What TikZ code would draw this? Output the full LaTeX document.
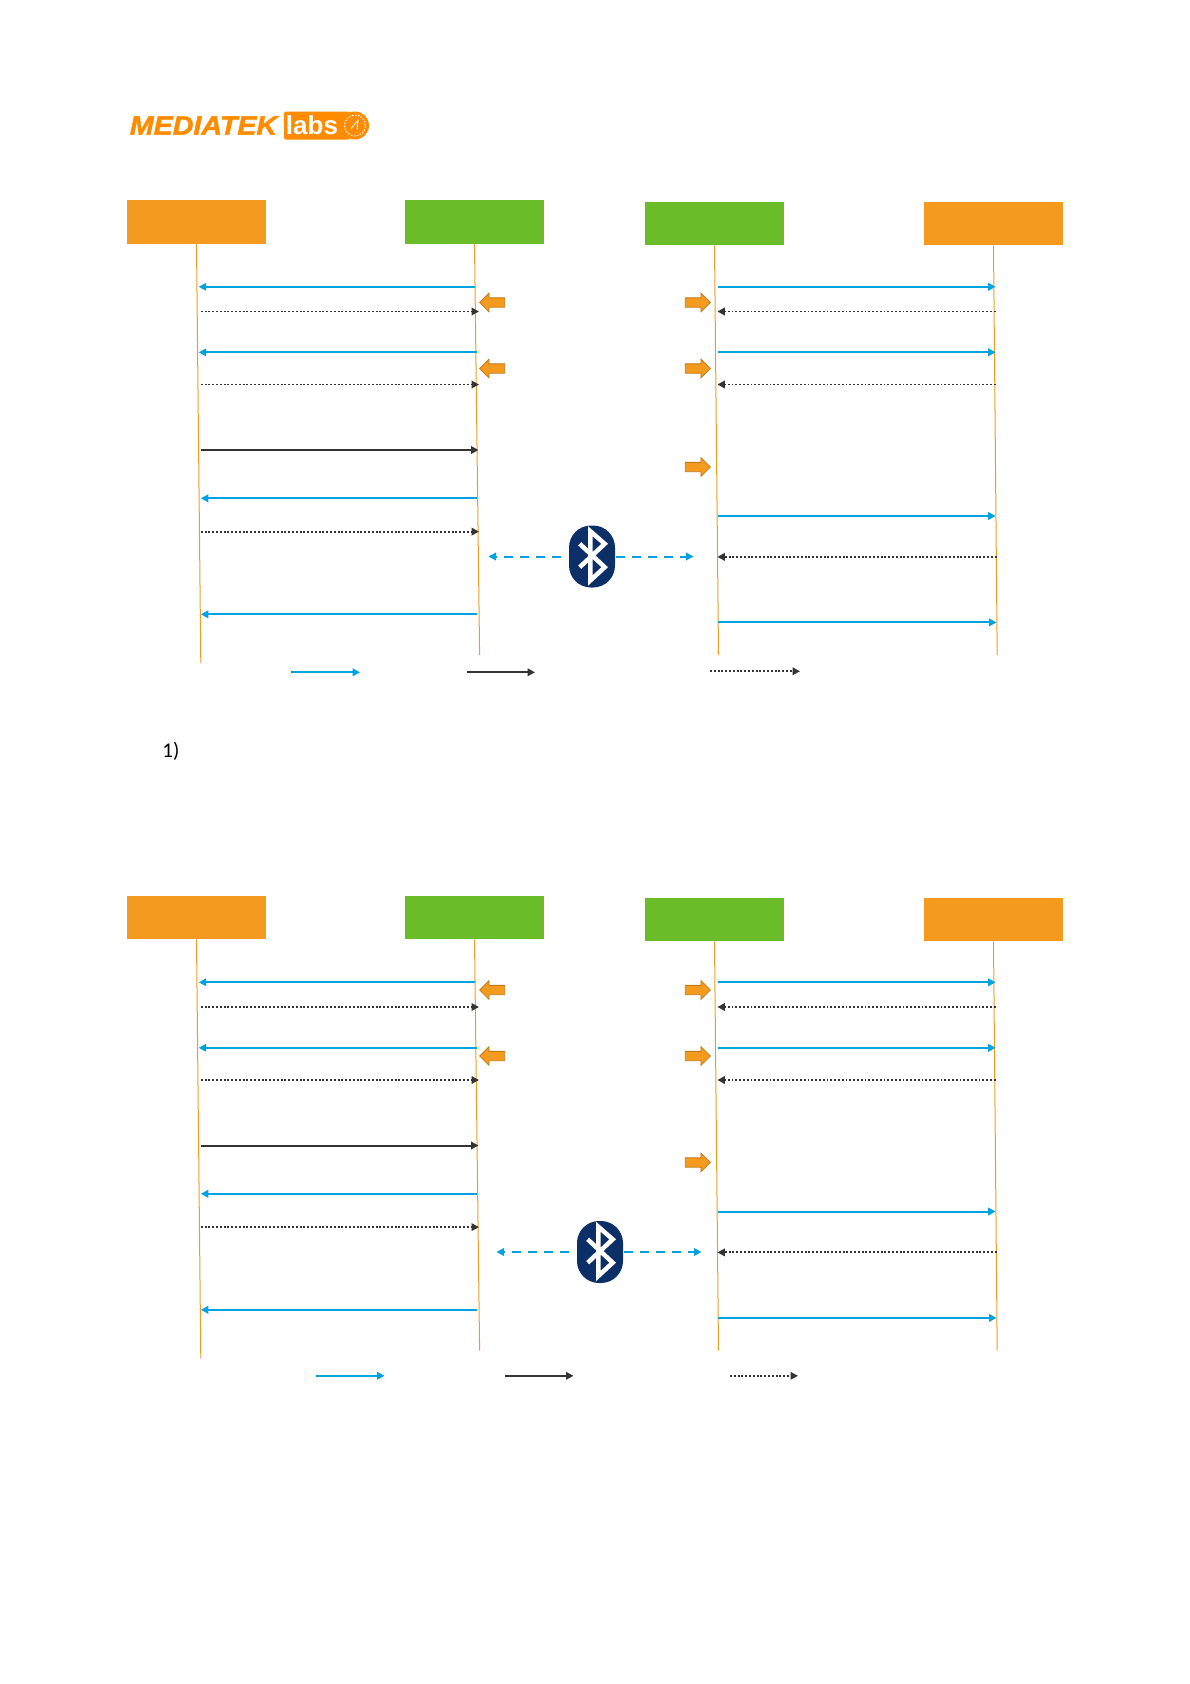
\documentclass[tikz,border=0pt]{standalone}
\usepackage{fontspec}
\setmainfont{Carlito}
\newfontfamily\logofont[FakeBold=1.6]{Liberation Sans}
\newfontfamily\labsfont{Liberation Sans}
\usetikzlibrary{arrows.meta,shapes.arrows,calc}
\definecolor{boxorange}{HTML}{F49A1F}
\definecolor{boxgreen}{HTML}{6ABD28}
\definecolor{msgblue}{HTML}{00A2E0}
\definecolor{msgdark}{HTML}{333333}
\definecolor{btnavy}{HTML}{0B2F66}
\definecolor{logoorange}{HTML}{FF8C00}
\begin{document}
\begin{tikzpicture}[
  x=1pt, y=-1pt,
  font=\fontsize{21}{25}\selectfont,
  >={Triangle[length=7.5pt,width=7.5pt]},
  hdr/.style={inner sep=0pt, minimum width=139pt, minimum height=43.5pt},
  life/.style={draw=boxorange, line width=1pt},
  req/.style={->, draw=msgblue, line width=2pt},
  cmd/.style={->, draw=msgdark, line width=2pt},
  rsp/.style={->, draw=msgdark, line width=1.9pt, dash pattern=on 1.9pt off 1.9pt},
  link/.style={->, draw=msgblue, line width=2pt, dash pattern=on 8.5pt off 7.5pt},
  blk/.style={single arrow, draw=boxorange!80!black, line width=0.8pt, fill=boxorange,
              inner xsep=0pt, inner ysep=4.25pt, minimum height=25pt,
              single arrow head extend=4.75pt, single arrow head indent=0pt},
  btn/.style={fill=btnavy, inner sep=0pt, minimum width=46pt, minimum height=62pt, rounded corners=22pt}
]
\useasboundingbox (0,0) rectangle (1190,1684);

% logo
\node[inner sep=0pt, text=logoorange, font=\logofont\bfseries\itshape\fontsize{26.5}{30}\selectfont,
      xscale=1.08, transform shape] (brand) at (203.5,125.5) {MEDIATEK};
\node[inner sep=0pt, fill=logoorange, rounded corners=2pt, minimum width=66pt, minimum height=28pt,
      text=white, font=\labsfont\bfseries\fontsize{26}{30}\selectfont] (labs) at (317,125.5) {\hspace*{-10pt}labs};
\node[circle, fill=logoorange, inner sep=0pt, minimum size=28pt] (globe) at (355,125.5) {};
\draw[white, line width=1pt, dash pattern=on 1.5pt off 1.5pt] (globe.center) circle (10.5pt);
\draw[white, line width=0.8pt] ($(globe.center)+(-4,3)$) -- ($(globe.center)+(3,-5)$) -- ($(globe.center)+(2,4)$);

% both charts
\foreach \d/\dy/\dz/\dh in {u/0/0/0, v/695.5/687.5/0.5} {
  \node[hdr, fill=boxorange] (hdra\d) at (196.5,221.8+\dy) {};
  \node[hdr, fill=boxgreen]  (hdrb\d) at (474.5,221.8+\dy) {};
  \node[hdr, fill=boxgreen]  (hdrc\d) at (714.5,223.5+\dy+\dh) {};
  \node[hdr, fill=boxorange] (hdrd\d) at (993.5,223.5+\dy+\dh) {};

  \coordinate (enda\d) at (200.8,663+\dy);
  \coordinate (endb\d) at (479.6,655+\dy);
  \coordinate (endc\d) at (718.5,655+\dy);
  \coordinate (endd\d) at (997.2,655+\dy);
  \foreach \h in {a,b,c,d}
    \draw[life] (hdr\h\d.south) -- (end\h\d);

  % messages
  \foreach \yy/\xa/\xb/\kind [count=\n] in {
      286.8/474.7/198.7/req, 311.5/200.8/479/rsp, 352.3/476.9/198.7/req, 384.5/200.8/479/rsp,
      450/200.8/478.5/cmd, 498.3/476.9/200.8/req, 531.6/200.8/479/rsp, 614.3/476.9/200.8/req,
      286.8/718/995.6/req, 311.5/995.6/717.4/rsp, 352.3/718/995.6/req, 384.5/995.6/717.4/rsp,
      516/718/995.6/req, 556.9/996.5/717.4/rsp, 622.4/718/996.5/req} {
    \coordinate (from\d\n) at (\xa,\yy+\dy);
    \coordinate (to\d\n) at (\xb,\yy+\dy);
    \draw[\kind] (from\d\n) -- (to\d\n);
  }

  % block arrows
  \node[blk, shape border rotate=180] (bla\d) at (494.5,302.5+\dz) {};
  \node[blk, shape border rotate=180] (blb\d) at (494.5,368.5+\dz) {};
  \node[blk] (blc\d) at (695.5,302.5+\dz) {};
  \node[blk] (bld\d) at (695.5,368.5+\dz) {};
  \node[blk] (ble\d) at (695.5,467+\dy) {};
}

% bluetooth marks
\foreach \d/\bx/\by in {u/592/556.5, v/600/1252} {
  \node[btn] (bt\d) at (\bx,\by) {};
  \begin{scope}[shift={(bt\d.center)}]
    \draw[white, line width=4.5pt, miter limit=10] (-12.3,-12.7) -- (12.7,10.7) -- (-1.7,24) -- (-1.7,-25.3)
      -- (12.7,-12.7) -- (-12.3,10.7);
  \end{scope}
  \coordinate (btl\d) at (\bx-103.5,\by);
  \coordinate (btr\d) at (\bx+101.5,\by);
  \draw[link] ($(bt\d.east)+(1,0)$) -- (btr\d);
  \draw[link] ($(bt\d.west)+(-8,0)$) -- (btl\d);
}

% legends
\foreach \yy/\xa/\xb/\kind [count=\n] in {
    672.3/291/360/req, 672.3/467/535/cmd, 671.3/710/800/rsp,
    1375.8/316/384.5/req, 1375.8/505/573.5/cmd, 1375.8/730/798/rsp} {
  \coordinate (keya\n) at (\xa,\yy);
  \coordinate (keyb\n) at (\xb,\yy);
  \draw[\kind] (keya\n) -- (keyb\n);
}

\node[inner sep=0pt] (item) at (171,751) {1)};
\end{tikzpicture}
\end{document}
